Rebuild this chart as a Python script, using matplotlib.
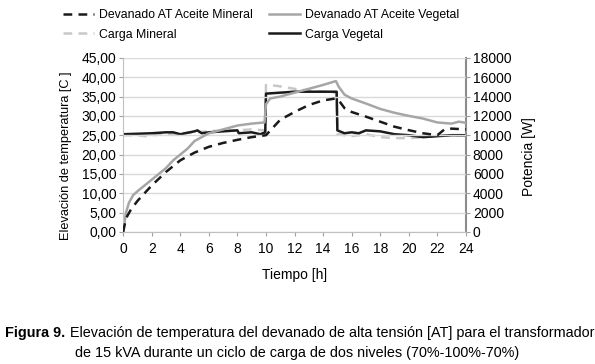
import numpy as np
import matplotlib
matplotlib.use("Agg")
import matplotlib.pyplot as plt

plt.rcParams['font.family'] = ['Liberation Sans', 'DejaVu Sans']

# Devanado AT (temperature rise, C)
t_min = [0, 0.2, 0.5, 1.0, 1.5, 2.0, 3.0, 4.0, 5.0, 6.0, 7.0, 8.0, 9.0, 10.0,
         10.5, 11.0, 12.0, 13.0, 14.0, 14.9, 15.2, 15.5, 16.0, 17.0, 18.0, 19.0,
         20.0, 21.0, 22.0, 22.5, 23.0, 24.0]
dev_min = [0, 3.5, 5.5, 8.0, 10.0, 12.0, 15.5, 18.5, 20.5, 22.0, 23.0, 23.8, 24.5, 25.0,
           27.0, 29.0, 31.0, 32.8, 34.0, 34.5, 33.5, 32.0, 31.0, 29.8, 28.5, 27.2,
           26.3, 25.5, 25.0, 26.5, 26.7, 26.5]

t_veg = [0, 0.2, 0.4, 0.7, 1.0, 1.5, 2.0, 2.5, 3.0, 3.5, 4.0, 4.5, 5.0, 5.5, 6.0, 7.0,
         8.0, 9.0, 9.9, 10.0, 10.3, 11.0, 12.0, 13.0, 14.0, 14.9, 15.1, 15.5, 16.0,
         17.0, 18.0, 19.0, 20.0, 21.0, 22.0, 23.0, 23.5, 24.0]
dev_veg = [0, 5.0, 7.5, 9.5, 10.5, 12.0, 13.5, 15.0, 16.5, 18.5, 20.0, 21.5, 23.5, 24.5,
           25.5, 26.5, 27.5, 28.0, 28.3, 33.0, 34.5, 35.0, 36.0, 37.0, 38.0, 39.0,
           37.5, 35.5, 34.5, 33.2, 31.8, 30.8, 30.0, 29.3, 28.3, 28.0, 28.5, 28.2]

# Carga (power, W)
t_cm = [0, 1.0, 1.5, 2.0, 3.0, 4.0, 5.0, 6.0, 7.0, 8.0, 9.0, 9.95, 10.0, 10.8, 12.0,
        13.0, 14.0, 14.95, 15.0, 16.0, 17.0, 18.0, 19.0, 20.0, 21.0, 22.0, 23.0, 24.0]
carga_min = [10000, 10000, 9900, 10000, 10100, 10200, 10300, 10400, 10500, 10500, 10600,
             10500, 15200, 15100, 14800, 14600, 14500, 14400, 10100, 9900, 10100, 9800,
             9700, 9700, 9800, 9900, 10000, 10000]

t_cv = [0, 1.0, 2.0, 3.0, 3.5, 4.0, 5.0, 5.2, 5.5, 6.0, 7.0, 8.0, 8.1, 9.0, 9.6, 9.95,
        10.0, 11.0, 12.0, 13.0, 14.0, 14.95, 15.0, 15.5, 16.0, 16.5, 17.0, 18.0, 19.0,
        20.0, 21.0, 22.0, 23.0, 24.0]
carga_veg = [10100, 10150, 10200, 10300, 10300, 10100, 10400, 10500, 10200, 10300, 10400,
             10500, 10200, 10300, 10100, 10300, 14300, 14400, 14500, 14500, 14500, 14500,
             10500, 10200, 10300, 10200, 10500, 10400, 10100, 10000, 9800, 9900, 10000,
             10000]

x_ticks = np.arange(0, 25, 2)
left_ticks = np.arange(0, 46, 5)
right_ticks = np.arange(0, 18001, 2000)

fig = plt.figure(figsize=(5.95, 3.64), dpi=100)
ax = fig.add_axes([0.207, 0.363, 0.576, 0.478])
ax2 = ax.twinx()

dash = (0, (3.5, 2.5))
ax.plot(t_min, dev_min, color='#1a1a1a', lw=1.8, ls=dash, zorder=3)
ax.plot(t_veg, dev_veg, color='#a6a6a6', lw=1.8, zorder=2)
ax2.plot(t_cm, carga_min, color='#c8c8c8', lw=1.8, ls=dash)
ax2.plot(t_cv, carga_veg, color='#1a1a1a', lw=1.8)

ax.set_zorder(ax2.get_zorder() + 1)
ax.patch.set_visible(False)

ax.set_xlim(0, 24)
ax.set_ylim(0, 45)
ax2.set_ylim(0, 18000)
ax.set_xticks(x_ticks)
ax.set_yticks(left_ticks)
ax.set_yticklabels([f'{v:.2f}'.replace('.', ',') for v in left_ticks])
ax2.set_yticks(right_ticks)

ax.grid(axis='y', color='#d9d9d9', lw=1)
ax.set_axisbelow(True)

for a in (ax, ax2):
    a.spines['top'].set_visible(False)
    a.tick_params(labelsize=10, length=3, color='#a0a0a0', pad=2)
ax.spines['left'].set_color('#c0c0c0')
ax.spines['bottom'].set_color('#c0c0c0')
ax.spines['right'].set_visible(False)
ax2.spines['left'].set_visible(False)
ax2.spines['bottom'].set_visible(False)
ax2.spines['right'].set_color('#8c8c8c')
ax2.spines['right'].set_linewidth(1.5)
ax.tick_params(axis='x', pad=4)

ax.set_ylabel('Elevación de temperatura [C ]', fontsize=9.2)
ax.yaxis.set_label_coords(-0.148, 0.437)
ax2.set_ylabel('Potencia [W]', fontsize=10)
ax2.yaxis.set_label_coords(1.163, 0.43)
ax.set_xlabel('Tiempo [h]', fontsize=10, labelpad=9)

# legend
h1, = ax.plot([], [], color='#1a1a1a', lw=1.8, ls=dash)
h2, = ax.plot([], [], color='#a6a6a6', lw=1.8)
h3, = ax.plot([], [], color='#c8c8c8', lw=1.8, ls=dash)
h4, = ax.plot([], [], color='#1a1a1a', lw=1.8)
fig.legend([h1, h3, h2, h4],
           ['Devanado AT Aceite Mineral', 'Carga Mineral',
            'Devanado AT Aceite Vegetal', 'Carga Vegetal'],
           ncol=2, loc='upper left', bbox_to_anchor=(0.106, 0.975), frameon=False,
           borderpad=0, borderaxespad=0,
           fontsize=8.8, handlelength=2.55, handletextpad=0.4, columnspacing=1.3,
           labelspacing=0.62)

fs_cap = 10.4
fig.text(0.009, 0.085, 'Figura 9.', fontsize=fs_cap, fontweight='bold', va='center')
fig.text(0.117, 0.085,
         'Elevación de temperatura del devanado de alta tensión [AT] para el transformador',
         fontsize=fs_cap, va='center')
fig.text(0.5, 0.03, 'de 15 kVA durante un ciclo de carga de dos niveles (70%-100%-70%)',
         fontsize=fs_cap, ha='center', va='center')

fig.savefig('out.png', dpi=100)
